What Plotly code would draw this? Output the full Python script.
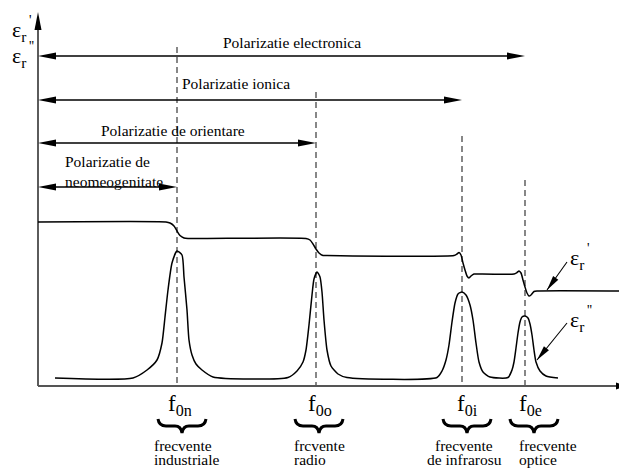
import math
import plotly.graph_objects as go

W, H = 627, 468
PAGE_MARGIN = 8                   # default body margin of the html page
FONT = "Liberation Serif, Times New Roman, DejaVu Serif, serif"

# ---------------- schematic geometry (pixel units) -------------
AXIS_X, AXIS_Y = 38, 386          # origin of the eps / f axes
AXIS_TOP, AXIS_RIGHT = 12, 627

# resonance frequencies
f_sub = ["0n", "0o", "0i", "0e"]
f_pos = [177, 316, 462, 525]
f_label_x = [180, 320, 467, 530]
brace_x = [182, 319, 467, 534]

# frequency bands under the axis
band_line1 = ["frecvente", "frcvente", "frecvente", "frecvente"]
band_line2 = ["industriale", "radio", "de infrarosu", "optice"]
band_x = [152, 292, 464, 517]
band_anchor = ["left", "left", "center", "left"]

# polarisation ranges (arrow from the eps axis to the resonance frequency)
pol_text = ["Polarizatie electronica", "Polarizatie ionica",
            "Polarizatie de orientare", "Polarizatie de<br>neomeogenitate"]
pol_end = [525, 462, 316, 177]
pol_arrow_y = [56, 100, 143, 187]
pol_text_x = [292, 236, 173, 63]
pol_text_y = [42, 83, 130, 171]
pol_anchor = ["center", "center", "center", "left"]
dash_top = [180, 136, 92, 47]     # top of the dashed line for each f0

# eps' (real part) curve
eps1_x = [38, 166, 170, 174, 177, 180, 184, 188, 306, 310, 313, 316, 319, 323, 327,
          454, 457, 459, 461, 463, 465, 467, 469, 471, 474, 477,
          514, 517, 519, 521, 523, 525, 527, 529, 531, 534, 537, 620]
eps1_y = [222, 222, 223, 226, 231, 235.5, 238, 238.5, 238.5, 240, 244, 249, 253, 255.5, 255.5,
          255.5, 254, 252.5, 255, 263, 270, 276, 278, 276, 274, 274,
          274, 272.5, 271, 273, 280, 287, 293, 296, 295, 291.5, 291, 291]

# eps'' (imaginary part / losses) curve
eps2_x = [55, 133, 147, 157, 162, 165, 168, 172, 177, 182, 184, 187, 189, 192, 196, 202, 213,
          288, 297, 303, 306, 309, 312, 314, 317, 320, 322, 324, 327, 331, 338, 347,
          437, 442, 446, 449, 452, 455, 458, 462, 466, 470, 473, 476, 479, 483, 490,
          508, 512, 514, 516, 518, 520, 522, 525, 528, 530, 532, 534, 536, 540, 546, 558]
eps2_y = [378, 378, 370, 360, 343, 317, 290, 263, 251, 255, 277, 310, 340, 355, 364, 370, 377,
          377.5, 371, 362, 350, 325, 295, 279, 272, 277, 292, 320, 350, 366, 374, 377.5,
          377.5, 371, 360, 345, 322, 303, 294, 292, 295, 305, 320, 343, 362, 372, 377,
          377.5, 370, 362, 348, 333, 322, 317, 316, 318, 324, 335, 350, 362, 371, 376, 378]

# labels of the two curves on the right, with pointer arrows (tail -> tip)
curve_label_x = [568, 568]
curve_label_y = [259, 321]
curve_primes = ["'", "''"]
pointer_from = [(567, 262), (567, 323)]
pointer_to = [(547, 290), (537, 360)]


# ------------------------------------------------------------------------------------
def head(tx, ty, fx, fy, length=18, half=3.5):
    dx, dy = tx - fx, ty - fy
    n = math.hypot(dx, dy)
    ux, uy = dx / n, dy / n
    bx, by = tx - ux * length, ty - uy * length
    px, py = -uy * half, ux * half
    return f"M{tx},{ty} L{bx + px},{by + py} L{bx - px},{by - py} Z"


def brace(xc, hw=24, y0=419, y1=426, y2=433):
    return (f"M{xc - hw},{y0} Q{xc - hw + 1},{y1} {xc - hw + 8},{y1} L{xc - 7},{y1} "
            f"Q{xc - 1},{y1} {xc},{y2} Q{xc + 1},{y1} {xc + 7},{y1} L{xc + hw - 8},{y1} "
            f"Q{xc + hw - 1},{y1} {xc + hw},{y0}")


fig = go.Figure()
shapes = []
ann = []

# dashed resonance lines
for fx, top in zip(f_pos, dash_top[::-1]):
    fig.add_trace(go.Scatter(x=[fx, fx], y=[top, AXIS_Y], mode="lines",
                             line=dict(color="#555555", width=1.4, dash="6px,4px"),
                             hoverinfo="skip"))

# axes
fig.add_trace(go.Scatter(x=[AXIS_X, AXIS_X], y=[AXIS_Y, AXIS_TOP + 10], mode="lines",
                         line=dict(color="#333333", width=1.6), hoverinfo="skip"))
fig.add_trace(go.Scatter(x=[AXIS_X, AXIS_RIGHT - 6], y=[AXIS_Y, AXIS_Y], mode="lines",
                         line=dict(color="#555555", width=2.2), hoverinfo="skip"))
shapes.append(dict(type="path", path=head(AXIS_X, AXIS_TOP, AXIS_X, AXIS_Y, 18, 3.5),
                   fillcolor="black", line=dict(width=0)))
shapes.append(dict(type="path", path=head(AXIS_RIGHT, AXIS_Y, AXIS_X, AXIS_Y, 11, 3.5),
                   fillcolor="black", line=dict(width=0)))

# polarisation double arrows
for txt, xe, ya, tx, ty, anc in zip(pol_text, pol_end, pol_arrow_y, pol_text_x, pol_text_y, pol_anchor):
    fig.add_trace(go.Scatter(x=[AXIS_X + 8, xe - 8], y=[ya, ya], mode="lines",
                             line=dict(color="black", width=1.5), hoverinfo="skip"))
    shapes.append(dict(type="path", path=head(AXIS_X, ya, xe, ya), fillcolor="black",
                       line=dict(width=0)))
    shapes.append(dict(type="path", path=head(xe, ya, AXIS_X, ya), fillcolor="black",
                       line=dict(width=0)))
    ann.append(dict(x=tx, y=ty, text=txt, showarrow=False, xanchor=anc, yanchor="middle",
                    align="left", font=dict(family=FONT, size=15.5, color="black")))

# curves
fig.add_trace(go.Scatter(x=eps1_x, y=eps1_y, mode="lines",
                         line=dict(color="black", width=1.5, shape="spline", smoothing=0.6),
                         hoverinfo="skip"))
fig.add_trace(go.Scatter(x=eps2_x, y=eps2_y, mode="lines",
                         line=dict(color="black", width=1.5, shape="spline", smoothing=0.6),
                         hoverinfo="skip"))

# pointers to curve labels
for (fx, fy), (tx, ty) in zip(pointer_from, pointer_to):
    fig.add_trace(go.Scatter(x=[fx, tx], y=[fy, ty], mode="lines",
                             line=dict(color="black", width=1.1), hoverinfo="skip"))
    shapes.append(dict(type="path", path=head(tx, ty, fx, fy, 15, 3.2), fillcolor="black",
                       line=dict(width=0)))

# eps labels (axis and curves)
eps_label_pos = [(10, 31, "'"), (10, 57, "''")] + list(zip(curve_label_x, curve_label_y, curve_primes))
for x0, y0, pr in eps_label_pos:
    ann.append(dict(x=x0, y=y0, text="ε<sub>r</sub>", showarrow=False, xanchor="left",
                    yanchor="middle", font=dict(family=FONT, size=22, color="black")))
    ann.append(dict(x=x0 + 17, y=y0 - 11, text=pr, showarrow=False, xanchor="left",
                    yanchor="middle", font=dict(family=FONT, size=14, color="black")))

# f0 labels, braces and band names
for sub, lx, bx, l1, l2, tx, anc in zip(f_sub, f_label_x, brace_x, band_line1, band_line2,
                                        band_x, band_anchor):
    ann.append(dict(x=lx, y=405, text=f"f<sub>{sub}</sub>", showarrow=False, xanchor="center",
                    yanchor="middle", font=dict(family=FONT, size=23, color="black")))
    shapes.append(dict(type="path", path=brace(bx), line=dict(color="black", width=3)))
    ann.append(dict(x=tx, y=445, text=l1, showarrow=False, xanchor=anc, yanchor="middle",
                    font=dict(family=FONT, size=15.5, color="black")))
    ann.append(dict(x=tx, y=459, text=l2, showarrow=False, xanchor=anc, yanchor="middle",
                    font=dict(family=FONT, size=15.5, color="black")))

ann.append(dict(x=621, y=405, text="f", showarrow=False, xanchor="left", yanchor="middle",
                font=dict(family=FONT, size=23, color="black")))

# the page body has an 8px margin: size the figure to fill the rest of the window and
# shift the ranges so that axis units coincide with window pixels
fig.update_layout(
    width=W - PAGE_MARGIN, height=H - PAGE_MARGIN, margin=dict(l=0, r=0, t=0, b=0),
    paper_bgcolor="white", plot_bgcolor="white", showlegend=False,
    xaxis=dict(range=[PAGE_MARGIN, W], visible=False, fixedrange=True),
    yaxis=dict(range=[H, PAGE_MARGIN], visible=False, fixedrange=True),
    shapes=shapes, annotations=ann,
)
fig.write_html("out.html")
